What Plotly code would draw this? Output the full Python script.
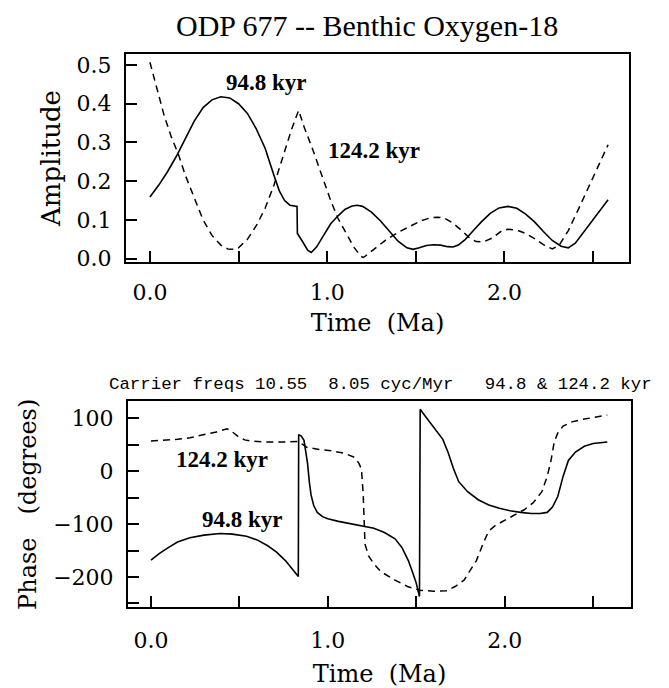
import plotly.graph_objects as go

# ---- Data ----
amp_t_948 = [0.00, 0.05, 0.10, 0.15, 0.20, 0.25, 0.30, 0.35, 0.40, 0.45, 0.50, 0.55, 0.60, 0.65, 0.70,
             0.73, 0.76, 0.79, 0.83, 0.832, 0.86, 0.89, 0.91, 0.94, 0.98, 1.02, 1.06, 1.10, 1.14, 1.17,
             1.20, 1.25, 1.30, 1.35, 1.40, 1.45, 1.485, 1.52, 1.56, 1.60, 1.64, 1.68, 1.71, 1.74, 1.78,
             1.82, 1.87, 1.92, 1.97, 2.02, 2.07, 2.12, 2.17, 2.22, 2.27, 2.32, 2.36, 2.40, 2.45, 2.50,
             2.55, 2.585]
amp_948 = [0.159, 0.19, 0.225, 0.265, 0.31, 0.355, 0.39, 0.41, 0.418, 0.415, 0.40, 0.375, 0.335, 0.285, 0.215,
           0.175, 0.15, 0.138, 0.135, 0.065, 0.045, 0.022, 0.016, 0.03, 0.06, 0.09, 0.11, 0.127, 0.136, 0.138,
           0.135, 0.12, 0.098, 0.07, 0.045, 0.028, 0.024, 0.028, 0.034, 0.036, 0.035, 0.031, 0.030, 0.035, 0.05,
           0.07, 0.095, 0.117, 0.131, 0.135, 0.13, 0.115, 0.095, 0.07, 0.047, 0.032, 0.028, 0.04, 0.07, 0.10,
           0.13, 0.152]

amp_t_1242 = [0.00, 0.04, 0.08, 0.12, 0.16, 0.20, 0.25, 0.30, 0.35, 0.40, 0.44, 0.47, 0.50, 0.55, 0.60,
              0.65, 0.70, 0.75, 0.80, 0.839, 0.87, 0.92, 0.97, 1.02, 1.06, 1.10, 1.15, 1.19, 1.205, 1.23,
              1.28, 1.33, 1.40, 1.47, 1.53, 1.58, 1.62, 1.66, 1.71, 1.76, 1.80, 1.84, 1.88, 1.93, 1.98,
              2.02, 2.07, 2.12, 2.17, 2.22, 2.27, 2.31, 2.36, 2.42, 2.48, 2.53, 2.585]
amp_1242 = [0.507, 0.44, 0.37, 0.315, 0.27, 0.215, 0.155, 0.10, 0.06, 0.035, 0.025, 0.024, 0.028, 0.05, 0.085,
            0.13, 0.19, 0.265, 0.335, 0.383, 0.34, 0.28, 0.215, 0.15, 0.105, 0.07, 0.03, 0.006, 0.003, 0.012,
            0.03, 0.048, 0.068, 0.085, 0.098, 0.105, 0.107, 0.105, 0.092, 0.072, 0.055, 0.044, 0.043, 0.053, 0.07,
            0.076, 0.074, 0.065, 0.052, 0.036, 0.025, 0.035, 0.072, 0.13, 0.19, 0.24, 0.294]

ph_t_948 = [0.00, 0.05, 0.10, 0.15, 0.22, 0.30, 0.39, 0.46, 0.54, 0.60, 0.66, 0.71, 0.76, 0.80, 0.833,
            0.835, 0.85, 0.865, 0.875, 0.885, 0.895, 0.905, 0.92, 0.94, 0.97, 1.00, 1.06, 1.12, 1.19, 1.26,
            1.32, 1.38, 1.42, 1.455, 1.48, 1.50, 1.518, 1.522, 1.55, 1.60, 1.65, 1.68, 1.71, 1.74, 1.79,
            1.85, 1.91, 1.97, 2.03, 2.09, 2.15, 2.20, 2.24, 2.27, 2.30, 2.33, 2.36, 2.40, 2.45, 2.50, 2.58]
ph_948 = [-168, -155, -144, -134, -126, -121, -118, -119, -123, -130, -141, -153, -169, -186, -199,
          69, 66, 58, 40, 15, -20, -45, -65, -78, -86, -90, -95, -99, -103, -108,
          -116, -128, -145, -169, -192, -212, -237, 117, 104, 83, 60, 35, 5, -20, -39,
          -54, -64, -70, -75, -78, -80, -80, -78, -68, -48, -10, 20, 36, 47, 52, 55]

ph_t_1242 = [0.00, 0.08, 0.15, 0.22, 0.30, 0.37, 0.43, 0.46, 0.49, 0.53, 0.56, 0.65, 0.75, 0.83, 0.86,
             0.88, 0.95, 1.03, 1.10, 1.15, 1.175, 1.19, 1.20, 1.205, 1.21, 1.23, 1.26, 1.30, 1.38, 1.45,
             1.52, 1.60, 1.67, 1.72, 1.77, 1.80, 1.84, 1.88, 1.91, 1.95, 1.99, 2.05, 2.11, 2.16, 2.21,
             2.24, 2.26, 2.28, 2.30, 2.33, 2.38, 2.43, 2.50, 2.58]
ph_1242 = [57, 58, 60, 63, 69, 74, 80, 74, 66, 59, 57, 55, 55, 56, 50,
           45, 41, 38, 33, 26, 15, 4, -45, -100, -138, -160, -175, -190, -206, -218,
           -225, -227, -226, -218, -206, -190, -169, -135, -113, -102, -95, -84, -73, -60, -39,
           -10, 17, 55, 72, 85, 93, 97, 101, 106]

x_tickvals = [0.0, 0.5, 1.0, 1.5, 2.0, 2.5]
x_ticktext = ["0.0", "", "1.0", "", "2.0", ""]
amp_tickvals = [0.0, 0.1, 0.2, 0.3, 0.4, 0.5]
amp_ticktext = ["0.0", "0.1", "0.2", "0.3", "0.4", "0.5"]
ph_tickvals = [-250, -200, -150, -100, -50, 0, 50, 100]
ph_ticktext = ["", "\u2212200", "", "\u2212100", "", "0", "", "100"]

W, H = 669, 688
TICKFONT = dict(family="DejaVu Serif", size=22, color="black")
TITLEFONT = dict(family="DejaVu Serif", size=24, color="black")
AMPFONT = dict(family="DejaVu Serif", size=26, color="black")
LBLFONT = dict(family="Liberation Serif", size=23, color="black")

fig = go.Figure()

solid = dict(color="black", width=1.6)
dashed = dict(color="black", width=1.5, dash="7px,5px")

fig.add_trace(go.Scatter(x=amp_t_948, y=amp_948, mode="lines", line=solid, xaxis="x", yaxis="y", showlegend=False))
fig.add_trace(go.Scatter(x=amp_t_1242, y=amp_1242, mode="lines", line=dashed, xaxis="x", yaxis="y", showlegend=False))
fig.add_trace(go.Scatter(x=ph_t_948, y=ph_948, mode="lines", line=solid, xaxis="x2", yaxis="y2", showlegend=False))
fig.add_trace(go.Scatter(x=ph_t_1242, y=ph_1242, mode="lines", line=dashed, xaxis="x2", yaxis="y2", showlegend=False))

axis_common = dict(showline=True, linecolor="black", linewidth=2, mirror=True, ticks="inside",
                   ticklen=11, tickwidth=1.5, tickcolor="black", showgrid=False, zeroline=False,
                   tickfont=TICKFONT)

def lbl(text, x, y, xref, yref, font):
    return dict(text=text, x=x, y=y, xref=xref, yref=yref, showarrow=False,
                xanchor="center", yanchor="middle", font=font)

fig.update_layout(
    width=W, height=H, margin=dict(l=0, r=0, t=0, b=0),
    paper_bgcolor="white", plot_bgcolor="white",
    xaxis=dict(domain=[126 / W, 629 / W], range=[-0.135, 2.703], anchor="y",
               tickvals=x_tickvals, ticktext=x_ticktext, ticklabelstandoff=10,
               title=dict(text="Time  (Ma)", standoff=10, font=TITLEFONT), **axis_common),
    yaxis=dict(domain=[1 - 265 / H, 1 - 54 / H], range=[-0.008, 0.528], anchor="x",
               tickvals=amp_tickvals, ticktext=amp_ticktext, ticklabelstandoff=8,
               title=dict(text="Amplitude", standoff=8, font=AMPFONT), **axis_common),
    xaxis2=dict(domain=[128 / W, 631 / W], range=[-0.13, 2.714], anchor="y2",
                tickvals=x_tickvals, ticktext=x_ticktext, ticklabelstandoff=12,
                title=dict(text="Time  (Ma)", standoff=14, font=TITLEFONT), **axis_common),
    yaxis2=dict(domain=[1 - 616 / H, 1 - 407 / H], range=[-257, 131.5], anchor="x2",
                tickvals=ph_tickvals, ticktext=ph_ticktext, ticklabelstandoff=8,
                title=dict(text="Phase   (degrees)", standoff=10, font=TITLEFONT), **axis_common),
    annotations=[
        lbl("ODP 677 -- Benthic Oxygen-18", 367 / W, 1 - 25 / H, "paper", "paper",
            dict(family="Liberation Serif", size=30, color="black")),
        lbl("<b>94.8 kyr</b>", 0.655, 0.454, "x", "y", LBLFONT),
        lbl("<b>124.2 kyr</b>", 1.264, 0.279, "x", "y", LBLFONT),
        lbl("<b>124.2 kyr</b>", 0.40, 22, "x2", "y2", LBLFONT),
        lbl("<b>94.8 kyr</b>", 0.52, -91, "x2", "y2", LBLFONT),
        lbl("Carrier freqs 10.55  8.05 cyc/Myr   94.8 & 124.2 kyr", 380 / W, 1 - 390 / H, "paper", "paper",
            dict(family="Liberation Mono", size=17.4, color="black")),
    ],
)

fig.write_html("out.html")
